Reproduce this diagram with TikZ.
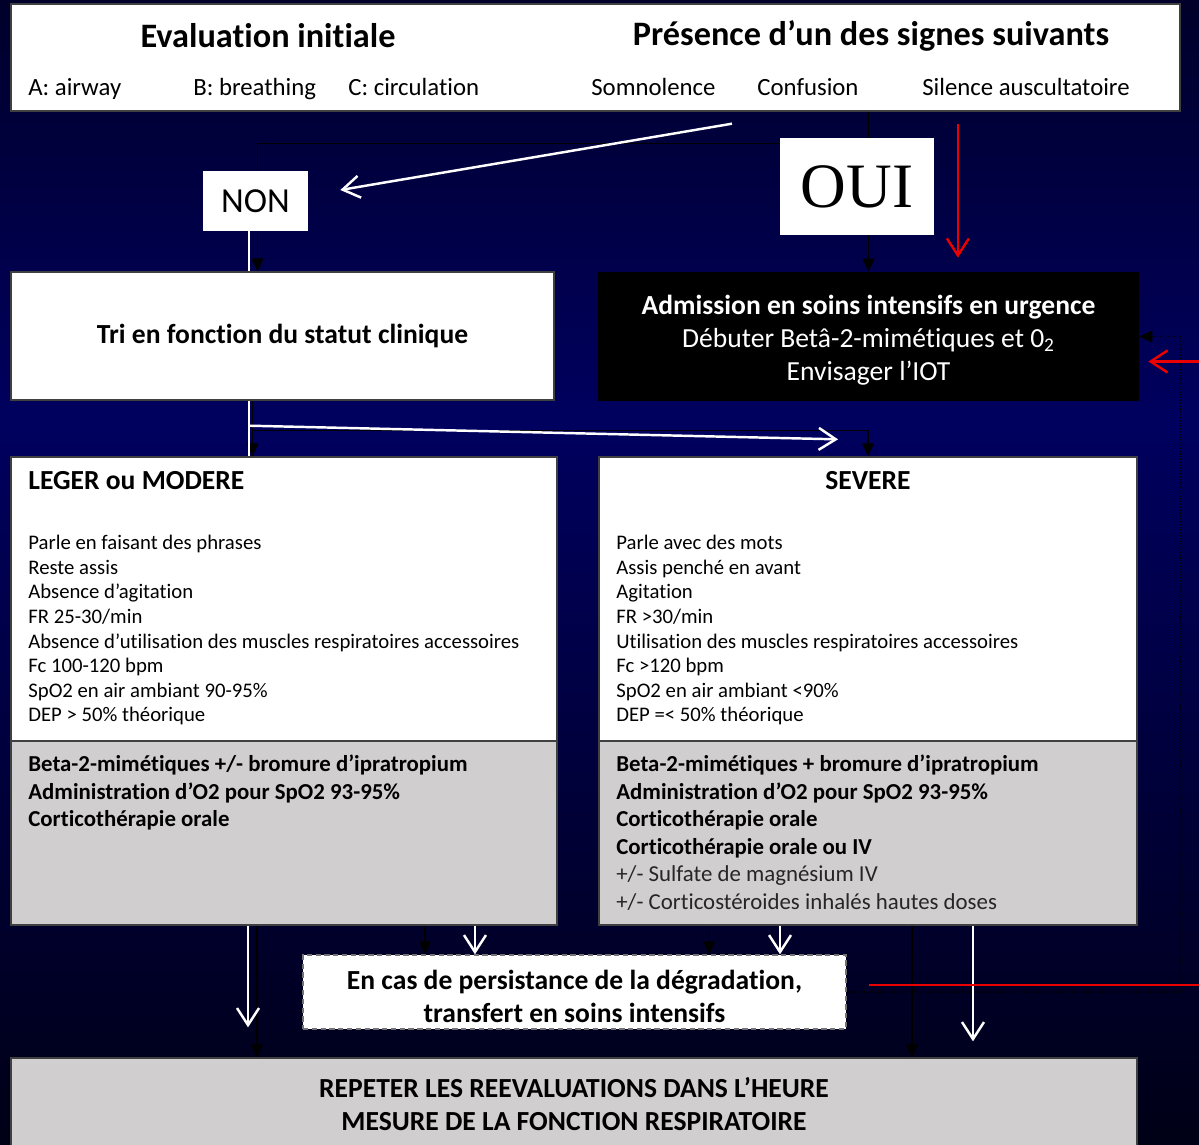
\documentclass[tikz,border=0pt]{standalone}
\usepackage{fontspec}
\setmainfont{Carlito}[Ligatures={NoCommon}]
\newfontfamily\ouifont{Liberation Serif}
\usetikzlibrary{arrows.meta}
\definecolor{navy}{RGB}{0, 0, 95}
\definecolor{navytop}{RGB}{0, 0, 42}
\definecolor{navybot}{RGB}{0, 0, 22}
\definecolor{boxgray}{RGB}{208, 206, 206}
\definecolor{alertred}{RGB}{235, 0, 0}
\newcommand{\fHead}{\fontsize{19.5}{23}\selectfont\bfseries}
\newcommand{\fSign}{\fontsize{14.1}{17}\selectfont}
\newcommand{\fNon}{\fontsize{20}{24}\selectfont}
\newcommand{\fOui}{\ouifont\fontsize{36}{40}\selectfont}
\newcommand{\fMid}{\fontsize{15.7}{18.7}\selectfont}
\newcommand{\fList}{\fontsize{11.8}{14}\selectfont}
\newcommand{\fTreat}{\fontsize{13}{15.6}\selectfont}
\tikzstyle{whitebox} = [rectangle, draw=black!75, fill=white, line width=0.8pt,
                        inner sep=0pt, align=center]
\tikzstyle{graybox} = [rectangle, draw=black!75, fill=boxgray, line width=0.8pt,
                       inner sep=0pt, align=center]
\tikzstyle{dashbox} = [rectangle, draw=black!55, fill=white, line width=0.8pt,
                       densely dashed, inner sep=0pt, align=center]
\tikzstyle{blackbox} = [rectangle, fill=black, text=white, inner sep=0pt, align=center]
\tikzstyle{answer} = [rectangle, fill=white, inner sep=0pt]
\tikzstyle{txt} = [inner sep=0pt, align=left]
\tikzstyle{hidden} = [black, line width=0.6pt, -{Triangle[length=0.26cm, width=0.24cm]}]
\tikzstyle{whiteline} = [white, line width=1.4pt]
\tikzstyle{arrow} = [white, line width=1.4pt, -{Straight Barb[length=0.34cm, width=0.44cm]}]
\tikzstyle{redarrow} = [alertred, line width=1.4pt, -{Straight Barb[length=0.34cm, width=0.44cm]}]

\begin{document}
\begin{tikzpicture}[x=0.02cm, y=-0.02cm]

        %Background
        \useasboundingbox (0,0) rectangle (1199,1144);
        \clip (0,0) rectangle (1199,1144);
        \shade [top color=navytop, bottom color=navy] (0,0) rectangle (1199,420);
        \shade [top color=navy, bottom color=navybot] (0,419) rectangle (1199,1144);

        %Initial evaluation
        \node (eval) [whitebox, minimum width=23.38cm, minimum height=2.14cm] at (595.5,57.5) {};
        \node (evalT) [font=\fHead] at (268,36) {Evaluation initiale};
        \node (signT) [font=\fHead] at (871,36) {Présence d’un des signes suivants};
        \node (sigA) [txt, font=\fSign, anchor=base west] at (28,95) {A: airway};
        \node (sigB) [txt, font=\fSign, anchor=base west] at (193,95) {B: breathing};
        \node (sigC) [txt, font=\fSign, anchor=base west] at (348,95) {C: circulation};
        \node (sigSom) [txt, font=\fSign, anchor=base west] at (591,95) {Somnolence};
        \node (sigConf) [txt, font=\fSign, anchor=base west] at (757,95) {Confusion};
        \node (sigSil) [txt, font=\fSign, anchor=base west] at (922,95) {Silence auscultatoire};

        %Triage and admission
        \node (tri) [whitebox, minimum width=10.86cm, minimum height=2.56cm, font=\fMid\bfseries] at (282.5,336) {Tri en fonction du statut clinique};
        \node (adm) [blackbox, minimum width=10.82cm, minimum height=2.58cm] at (868.5,336.5) {};
        \node (admT) [font=\fMid, text=white, align=center, inner sep=0pt] at (868.5,340)
              {\textbf{Admission en soins intensifs en urgence}\\Débuter Betâ-2-mimétiques et 0\textsubscript{2}\\Envisager l’IOT};

        %Severity boxes
        \node (leger) [whitebox, minimum width=10.92cm, minimum height=5.68cm] at (284,599) {};
        \node (legertr) [graybox, minimum width=10.92cm, minimum height=3.68cm] at (284,833) {};
        \node (severe) [whitebox, minimum width=10.76cm, minimum height=5.68cm] at (868,599) {};
        \node (severetr) [graybox, minimum width=10.76cm, minimum height=3.68cm] at (868,833) {};

        \node (legerT) [txt, font=\fMid\bfseries, anchor=west] at (28,481) {LEGER ou MODERE};
        \node (severeT) [txt, font=\fMid\bfseries] at (868,481) {SEVERE};
        \node (legerL) [txt, font=\fList, anchor=north west] at (28,535)
              {Parle en faisant des phrases\\Reste assis\\Absence d’agitation\\FR 25-30/min\\
               Absence d’utilisation des muscles respiratoires accessoires\\Fc 100-120 bpm\\
               SpO2 en air ambiant 90-95\%\\DEP > 50\% théorique};
        \node (severeL) [txt, font=\fList, anchor=north west] at (616,535)
              {Parle avec des mots\\Assis penché en avant\\Agitation\\FR >30/min\\
               Utilisation des muscles respiratoires accessoires\\Fc >120 bpm\\
               SpO2 en air ambiant <90\%\\DEP =< 50\% théorique};
        \node (legerTr) [txt, font=\fTreat\bfseries, anchor=north west] at (28,755)
              {Beta-2-mimétiques +/- bromure d’ipratropium\\Administration d’O2 pour SpO2 93-95\%\\
               Corticothérapie orale};
        \node (severeTr) [txt, font=\fTreat\bfseries, anchor=north west] at (616,755)
              {Beta-2-mimétiques + bromure d’ipratropium\\Administration d’O2 pour SpO2 93-95\%\\
               Corticothérapie orale\\Corticothérapie orale ou IV\\
               {\mdseries\color{black!85}+/- Sulfate de magnésium IV}\\
               {\mdseries\color{black!85}+/- Corticostéroides inhalés hautes doses}};

        %Transfer and reevaluation
        \node (dash) [dashbox, minimum width=10.86cm, minimum height=1.48cm] at (574.5,992) {};
        \node (dashT) [font=\fMid\bfseries, align=center, inner sep=0pt] at (574.5,996)
              {En cas de persistance de la dégradation,\\transfert en soins intensifs};
        \node (bottom) [graybox, minimum width=22.52cm, minimum height=1.84cm, font=\fMid\bfseries] at (574,1104)
              {REPETER LES REEVALUATIONS DANS L’HEURE\\MESURE DE LA FONCTION RESPIRATOIRE};

        %Hidden black connectors
        \draw [hidden] (eval.south -| adm.north) -- (adm.north);
        \path (eval.south -| adm.north) ++(0,32) coordinate (split);
        \draw [hidden] (split) -| ([xshift=-0.5cm]tri.north);
        \path ([xshift=-0.6cm]tri.south) coordinate (triOut);
        \draw [hidden] (triOut) -- (triOut |- leger.north);
        \path (triOut) ++(0,30) coordinate (split2);
        \draw [hidden] (split2) -| (severe.north);
        \path ([xshift=-0.54cm]legertr.south) coordinate (legOut);
        \draw [hidden] (legOut) -- (legOut |- bottom.north);
        \path ([xshift=2.82cm]legertr.south) coordinate (legDash);
        \draw [hidden] (legDash) -- (legDash |- dash.north);
        \path ([xshift=-3.18cm]severetr.south) coordinate (sevDash);
        \draw [hidden] (sevDash) -- (sevDash |- dash.north);
        \path ([xshift=0.88cm]severetr.south) coordinate (sevOut);
        \draw [hidden] (sevOut) -- (sevOut |- bottom.north);
        \draw [hidden, densely dotted] (dash.east) -- ++(6.68cm,0) |- (adm.east);

        %Answers
        \node (non) [answer, minimum width=2.1cm, minimum height=1.2cm, font=\fNon] at (255.5,201) {NON};
        \node (oui) [answer, minimum width=3.08cm, minimum height=1.94cm, font=\fOui] at (857,186.5) {OUI};

        %White arrows
        \path ([xshift=2.73cm, yshift=-0.24cm]eval.south) coordinate (evalOut);
        \draw [arrow] (evalOut) -- ([xshift=0.64cm, yshift=0.22cm]non.east);
        \path ([xshift=-0.13cm]non.south) coordinate (nonOut);
        \draw [whiteline] (nonOut) -- (nonOut |- tri.north);
        \path ([xshift=-0.67cm]tri.south) coordinate (triOutW);
        \draw [whiteline] (triOutW) -- (triOutW |- leger.north);
        \path (triOutW) ++(0,25) coordinate (splitW);
        \draw [arrow] (splitW) -- ([xshift=-0.6cm, yshift=0.34cm]severe.north);
        \path ([xshift=-0.72cm]legertr.south) coordinate (legOutW);
        \path (legOutW |- bottom.north) ++(0,-30) coordinate (legEndW);
        \draw [arrow] (legOutW) -- (legEndW);
        \path ([xshift=3.82cm]legertr.south) coordinate (legDashW);
        \draw [arrow] (legDashW) -- (legDashW |- dash.north);
        \path ([xshift=-1.76cm]severetr.south) coordinate (sevDashW);
        \draw [arrow] (sevDashW) -- (sevDashW |- dash.north);
        \path ([xshift=2.1cm]severetr.south) coordinate (sevOutW);
        \path (sevOutW |- bottom.north) ++(0,-16) coordinate (sevEndW);
        \draw [arrow] (sevOutW) -- (sevEndW);

        %Red arrows
        \path ([xshift=7.25cm, yshift=-0.24cm]eval.south) coordinate (evalRed);
        \path (evalRed |- adm.north) ++(0,-14) coordinate (admRedIn);
        \draw [redarrow] (evalRed) -- (admRedIn);
        \path ([xshift=0.44cm, yshift=0.14cm]dash.east) coordinate (redStart);
        \draw [redarrow] (redStart) -- ++(8cm,0) |- ([xshift=0.18cm, yshift=-0.5cm]adm.east);

\end{tikzpicture}
\end{document}
